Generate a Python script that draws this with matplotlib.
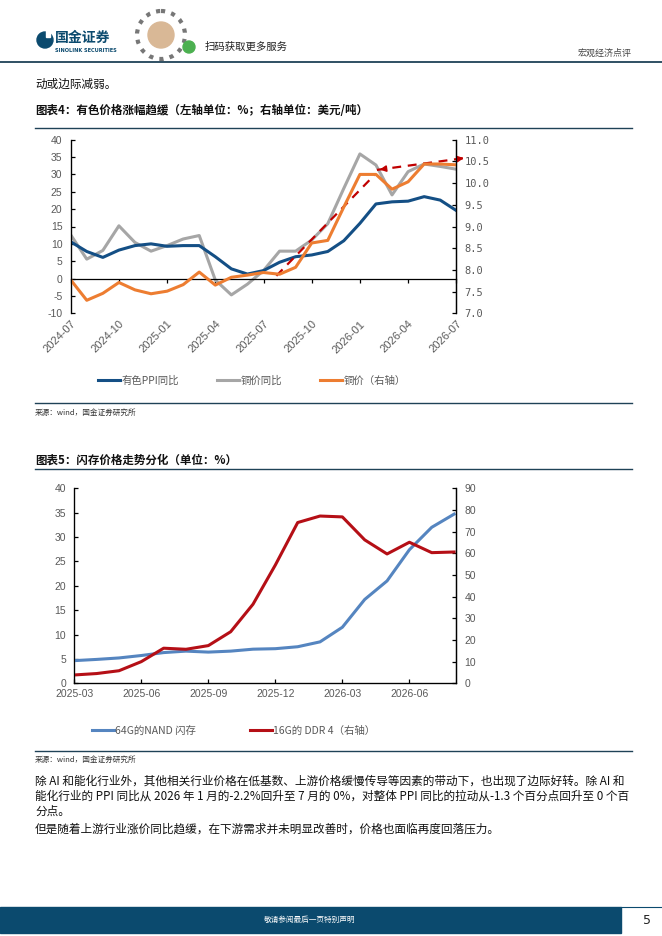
import numpy as np
import pandas as pd
import matplotlib
matplotlib.use("Agg")
import matplotlib.pyplot as plt
from matplotlib.patches import Circle, Rectangle
from matplotlib.lines import Line2D

# ── 폰트 ─────────────────────────────────────────
plt.rcParams["font.family"] = ["Noto Sans CJK SC", "DejaVu Sans"]
plt.rcParams["axes.unicode_minus"] = False

# ── 데이터: 图表4 (2024-07 ~ 2026-07, 月度) ──────────
months4 = pd.period_range("2024-07", "2026-07", freq="M").strftime("%Y-%m").tolist()
ticks4 = months4[::3]
ppi_yoy = [10.6, 7.8, 6.1, 8.2, 9.5, 10.0, 9.3, 9.5, 9.5, 6.3, 2.8, 1.3, 2.3,
           4.7, 6.3, 6.8, 7.8, 10.9, 15.9, 21.5, 22.1, 22.3, 23.6, 22.6, 19.6]
copper_yoy = [12.6, 5.6, 8.1, 15.2, 10.4, 7.9, 9.5, 11.4, 12.4, -0.4, -4.7, -1.6, 2.3,
              7.9, 7.9, 11.1, 15.8, 26.0, 35.9, 32.7, 24.1, 30.8, 33.0, 32.3, 31.5]
copper_px = [7.77, 7.30, 7.46, 7.71, 7.54, 7.45, 7.51, 7.66, 7.95, 7.65, 7.83, 7.88, 7.94,
             7.90, 8.06, 8.62, 8.68, 9.45, 10.20, 10.20, 9.86, 10.03, 10.44, 10.44, 10.42]
# 趋势箭头 (x: 月序号, y: 左轴)
trend_up_x, trend_up_y = [12.8, 18.9], [0.8, 29.8]
trend_flat_x, trend_flat_y = [19.06, 24.64], [31.3, 34.8]

# ── 데이터: 图表5 (2025-03 ~ 2026-08) ─────────────
months5 = pd.period_range("2025-03", "2026-08", freq="M").strftime("%Y-%m").tolist()
ticks5 = months5[::3]
nand = [4.65, 4.9, 5.2, 5.7, 6.3, 6.6, 6.4, 6.6, 7.0, 7.1, 7.5, 8.5,
        11.5, 17.2, 21.0, 27.4, 32.0, 34.7]
ddr4 = [3.85, 4.5, 5.8, 10.0, 16.2, 15.7, 17.4, 23.8, 36.5, 54.6, 74.2, 77.2,
        76.8, 66.2, 59.7, 65.1, 60.3, 60.6]

# ── 색상 ─────────────────────────────────────────
C_TEAL  = "#0B4A6E"
C_LINE  = "#1F4257"
C_TICK  = "#595959"
C_PPI   = "#144F85"
C_GRAY  = "#A6A6A6"
C_ORG   = "#ED7D31"
C_RED   = "#C00000"
C_NAND  = "#5585C0"
C_DDR   = "#B50F16"

W, H = 662, 936
fig = plt.figure(figsize=(W / 100, H / 100), dpi=100)


def rect(x0, y0, x1, y1):
    return [x0 / W, 1 - y1 / H, (x1 - x0) / W, (y1 - y0) / H]


# ── 페이지 (픽셀 좌표) ───────────────────────────
page = fig.add_axes([0, 0, 1, 1])
page.set_xlim(0, W)
page.set_ylim(H, 0)
page.axis("off")

# 헤더 로고
page.add_patch(Circle((45, 40), 8, color=C_TEAL))
page.add_patch(Rectangle((46, 30), 4, 7, color="white"))
page.text(55, 38, "国金证券", fontsize=10, fontweight="bold", color=C_TEAL, va="center")
page.text(55, 51, "SINOLINK SECURITIES", fontsize=3.6, fontweight="bold",
          color=C_TEAL, va="center", family="DejaVu Sans")
# 二维码 (示意)
page.add_patch(Circle((161, 35), 24, facecolor="none", edgecolor="#777777",
                      lw=3, ls=(0, (1, 1.5))))
page.add_patch(Circle((161, 35), 13, color="#D9B896"))
page.add_patch(Circle((189, 47), 6, color="#4CB050"))
page.text(205, 47, "扫码获取更多服务", fontsize=7.5, color="#222222", va="center")
page.text(632, 53, "宏观经济点评", fontsize=6.5, color="#444444", ha="right", va="center")
page.plot([0, W], [62, 62], color=C_LINE, lw=1.3)

page.text(35, 84, "动或边际减弱。", fontsize=8.4, color="#111111", va="center")

# 图表4 标题
page.text(35, 111, "图表4：有色价格涨幅趋缓（左轴单位：%；右轴单位：美元/吨）",
          fontsize=8.3, fontweight="bold", color="#111111", va="center")
page.plot([35, 632], [128, 128], color=C_LINE, lw=1)
page.plot([35, 632], [403, 403], color=C_LINE, lw=1)
page.text(35, 413, "来源：wind，国金证券研究所", fontsize=5.5, color="#333333", va="center")

# 图表5 标题
page.text(35, 460, "图表5：闪存价格走势分化（单位：%）",
          fontsize=8.3, fontweight="bold", color="#111111", va="center")
page.plot([35, 632], [469, 469], color=C_LINE, lw=1)
page.plot([35, 632], [751, 751], color=C_LINE, lw=1)
page.text(35, 760, "来源：wind，国金证券研究所", fontsize=5.5, color="#333333", va="center")

# 正文
para = [
    (781, "除 AI 和能化行业外，其他相关行业价格在低基数、上游价格缓慢传导等因素的带动下，也出现了边际好转。除 AI 和"),
    (796, "能化行业的 PPI 同比从 2026 年 1 月的-2.2%回升至 7 月的 0%，对整体 PPI 同比的拉动从-1.3 个百分点回升至 0 个百"),
    (811, "分点。"),
    (829, "但是随着上游行业涨价同比趋缓，在下游需求并未明显改善时，价格也面临再度回落压力。"),
]
for y, s in para:
    page.text(35, y, s, fontsize=8.4, color="#111111", va="center")

# 页脚
page.add_patch(Rectangle((0, 907), 621, 26, color=C_TEAL))
page.plot([621, W], [907, 907], color=C_TEAL, lw=0.8)
page.text(310, 920, "敬请参阅最后一页特别声明", fontsize=5.5, color="white",
          ha="center", va="center")
page.text(647, 920, "5", fontsize=9, color="#222222", ha="center", va="center",
          family="DejaVu Sans")

# ── 图表4 ─────────────────────────────────────────
x4 = np.arange(len(months4))
ax = fig.add_axes(rect(70.7, 139.7, 456.3, 313.3))
ax.plot(x4, ppi_yoy, color=C_PPI, lw=2.2, zorder=3)
ax.plot(x4, copper_yoy, color=C_GRAY, lw=2.2, zorder=2)
ax.set_xlim(0, 24)
ax.set_ylim(-10, 40)
ax.set_yticks(np.arange(-10, 41, 5))
ax.spines["top"].set_visible(False)
ax.spines["bottom"].set_position(("data", 0))
for s in ["left", "right", "bottom"]:
    ax.spines[s].set_linewidth(0.9)
ax.set_xticks(x4[::3])
ax.tick_params(axis="x", direction="out", length=3, width=0.9, labelbottom=False)
ax.tick_params(axis="y", direction="in", length=3, width=0.9, pad=6,
               labelsize=7.5, labelcolor=C_TICK)
for lab in ax.get_yticklabels():
    lab.set_family("Liberation Sans")

sec = ax.secondary_xaxis(0)
sec.set_xticks(x4[::3], ticks4)
sec.spines["bottom"].set_visible(False)
sec.tick_params(length=0, pad=4, labelsize=8, labelcolor=C_TICK)
for lab in sec.get_xticklabels():
    lab.set_rotation(45)
    lab.set_ha("right")
    lab.set_rotation_mode("anchor")
    lab.set_family("Liberation Sans")

axr = ax.twinx()
axr.plot(x4, copper_px, color=C_ORG, lw=2.2, zorder=2)
axr.set_ylim(7.0, 11.0)
axr.set_yticks(np.arange(7.0, 11.01, 0.5))
axr.set_yticklabels([f"{v:.1f}" for v in np.arange(7.0, 11.01, 0.5)],
                    family="DejaVu Sans Mono")
axr.spines["top"].set_visible(False)
axr.spines["bottom"].set_visible(False)
axr.spines["right"].set_linewidth(0.9)
axr.tick_params(axis="y", direction="in", length=3, width=0.9, pad=6,
                labelsize=7.5, labelcolor=C_TICK)

# 趋势箭头
ax.plot(trend_up_x, trend_up_y, color=C_RED, lw=1.6, ls=(0, (4, 3)), zorder=5)
ax.plot(trend_flat_x, trend_flat_y, color=C_RED, lw=1.6, ls=(0, (4, 3)),
        zorder=5, clip_on=False)
dx = trend_flat_x[1] - trend_flat_x[0]
dy = trend_flat_y[1] - trend_flat_y[0]
for (xa, ya), sgn in [((trend_flat_x[0], trend_flat_y[0]), 1),
                      ((trend_flat_x[1], trend_flat_y[1]), -1)]:
    ax.annotate("", xy=(xa, ya), xytext=(xa + sgn * dx * 0.12, ya + sgn * dy * 0.12),
                arrowprops=dict(arrowstyle="-|>", color=C_RED, lw=1.2,
                                mutation_scale=9), zorder=6, annotation_clip=False)

handles4 = [Line2D([], [], color=C_PPI, lw=2.2),
            Line2D([], [], color=C_GRAY, lw=2.2),
            Line2D([], [], color=C_ORG, lw=2.2)]
leg4 = fig.legend(handles4, ["有色PPI同比", "铜价同比", "铜价（右轴）"],
                  loc="center", bbox_to_anchor=(252 / W, 1 - 381 / H), ncol=3,
                  frameon=False, fontsize=7.5, handlelength=2.1,
                  handletextpad=0.2, columnspacing=3.6)
for t in leg4.get_texts():
    t.set_color(C_TICK)

# ── 图表5 ─────────────────────────────────────────
x5 = np.arange(len(months5))
bx = fig.add_axes(rect(74.3, 488.3, 456.3, 683.3))
bx.plot(x5, nand, color=C_NAND, lw=2.2, zorder=3)
bx.set_xlim(0, 17.1)
bx.set_ylim(0, 40)
bx.set_yticks(np.arange(0, 41, 5))
bx.set_xticks(x5[::3], ticks5)
bx.spines["top"].set_visible(False)
for s in ["left", "right", "bottom"]:
    bx.spines[s].set_linewidth(0.9)
bx.tick_params(direction="in", length=3, width=0.9, labelsize=7.5,
               labelcolor=C_TICK)
bx.tick_params(axis="y", pad=6)
bx.tick_params(axis="x", pad=4)
for lab in bx.get_xticklabels() + bx.get_yticklabels():
    lab.set_family("Liberation Sans")

bxr = bx.twinx()
bxr.plot(x5, ddr4, color=C_DDR, lw=2.2, zorder=2)
bxr.set_ylim(0, 90)
bxr.set_yticks(np.arange(0, 91, 10))
bxr.spines["top"].set_visible(False)
bxr.spines["right"].set_linewidth(0.9)
bxr.tick_params(axis="y", direction="in", length=3, width=0.9, pad=6,
                labelsize=7.5, labelcolor=C_TICK)
for lab in bxr.get_yticklabels():
    lab.set_family("Liberation Sans")

handles5 = [Line2D([], [], color=C_NAND, lw=2.2),
            Line2D([], [], color=C_DDR, lw=2.2)]
leg5 = fig.legend(handles5, ["64G的NAND 闪存", "16G的 DDR 4（右轴）"],
                  loc="center", bbox_to_anchor=(234 / W, 1 - 731 / H), ncol=2,
                  frameon=False, fontsize=7.5, handlelength=2.1,
                  handletextpad=0.1, columnspacing=5.2)
for t in leg5.get_texts():
    t.set_color(C_TICK)

fig.savefig("out.png", dpi=100)
